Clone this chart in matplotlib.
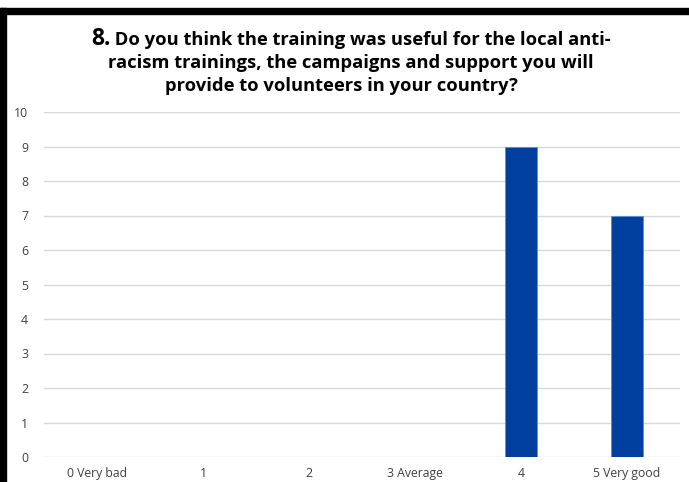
import numpy as np
import matplotlib
matplotlib.use("Agg")
from matplotlib import pyplot as plt
from matplotlib.patches import Rectangle

categories = ["0 Very bad", "1", "2", "3 Average", "4", "5 Very good"]
counts = [0, 0, 0, 0, 9, 7]
yticks = list(range(0, 11))

W, H = 689, 482
fig = plt.figure(figsize=(W / 100, H / 100), dpi=100)

# frame: thick black edges on left and top
fig.patches.append(Rectangle((0, 0), 6 / W, (H - 8) / H, transform=fig.transFigure,
                             color="black", zorder=5))
fig.patches.append(Rectangle((0, (H - 14) / H), 1, 6 / H, transform=fig.transFigure,
                             color="black", zorder=5))

left, right = 44 / W, 680 / W
bottom, top = (H - 457) / H, (H - 112) / H
ax = fig.add_axes([left, bottom, right - left, top - bottom])

x = np.arange(len(categories))
ax.bar(x, counts, width=0.31, color="#003f9e", edgecolor="#5b8fd6", linewidth=0.6, zorder=3)
ax.set_xlim(-0.5, len(categories) - 0.5)
ax.set_ylim(0, 10)
ax.set_yticks(yticks)
ax.set_xticks(x)
ax.set_xticklabels(categories)
ax.grid(axis="y", color="#d9d9d9", linewidth=1.0, zorder=0)
for s in ax.spines.values():
    s.set_visible(False)
ax.tick_params(length=0, colors="#404040", labelsize=8.8)
ax.tick_params(axis="y", pad=11.5)
ax.tick_params(axis="x", pad=7.5)
for lbl in ax.get_xticklabels() + ax.get_yticklabels():
    lbl.set_family("Open Sans")

# title, first line starts with a bigger question number
fig.canvas.draw()
r = fig.canvas.get_renderer()
tf = "Open Sans"
ts = 13.2
num = fig.text(0, 0, "8.", fontsize=16.5, fontweight="bold", family=tf)
rest = fig.text(0, 0, " Do you think the training was useful for the local anti-",
                fontsize=ts, fontweight="bold", family=tf)
w1 = num.get_window_extent(r).width
w2 = rest.get_window_extent(r).width
cx = 351
x0 = cx - (w1 + w2) / 2
num.set_position((x0 / W, (H - 45) / H))
rest.set_position(((x0 + w1) / W, (H - 45) / H))
fig.text(cx / W, (H - 68) / H, "racism trainings, the campaigns and support you will",
         fontsize=ts, fontweight="bold", family=tf, ha="center")
fig.text(341 / W, (H - 91) / H, "provide to volunteers in your country?",
         fontsize=ts, fontweight="bold", family=tf, ha="center")

fig.savefig("out.png", dpi=100)
